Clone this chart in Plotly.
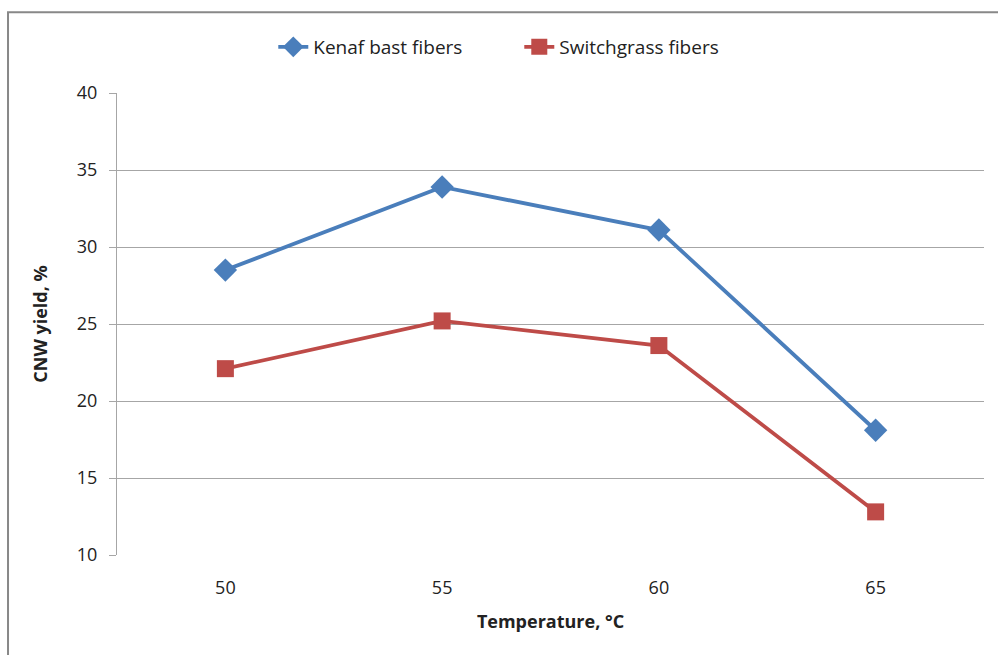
import plotly.graph_objects as go

temperature = [50, 55, 60, 65]
kenaf = [28.5, 33.9, 31.1, 18.1]
switchgrass = [22.1, 25.2, 23.6, 12.8]
y_ticks = [10, 15, 20, 25, 30, 35, 40]

FONT = "Open Sans"

fig = go.Figure()
fig.add_trace(go.Scatter(x=temperature, y=kenaf, mode="lines+markers", name="Kenaf bast fibers",
                         line=dict(color="#4A7EBB", width=3.8),
                         marker=dict(symbol="diamond", size=18, color="#4A7EBB")))
fig.add_trace(go.Scatter(x=temperature, y=switchgrass, mode="lines+markers", name="Switchgrass fibers",
                         line=dict(color="#BE4B48", width=3.8),
                         marker=dict(symbol="square", size=17, color="#BE4B48")))

fig.update_layout(
    width=998, height=655,
    margin=dict(l=117, r=14, t=93, b=100, autoexpand=False),
    paper_bgcolor="white", plot_bgcolor="white",
    font=dict(family=FONT, size=18, color="#222"),
    legend=dict(orientation="h", x=0.464, xanchor="center", y=1.0996, yanchor="middle",
                font=dict(size=19, family=FONT), bgcolor="rgba(0,0,0,0)", traceorder="normal",
                entrywidth=201),
    showlegend=True,
)
fig.update_xaxes(range=[47.5, 67.5], tickvals=temperature, ticktext=[str(t) for t in temperature],
                 showgrid=False, zeroline=False, showline=False, ticks="", ticklabelstandoff=20,
                 tickfont=dict(size=18),
                 title=dict(text="<b>Temperature, °C</b>", font=dict(size=18, family=FONT), standoff=17))
fig.update_yaxes(range=[10, 40], tickvals=y_ticks, showgrid=True, gridcolor="#A6A6A6", gridwidth=1,
                 zeroline=False, showline=True, linecolor="#A6A6A6", linewidth=1,
                 ticks="outside", ticklen=7, tickcolor="#A6A6A6", ticklabelstandoff=8,
                 tickfont=dict(size=18),
                 title=dict(text="<b>CNW yield, %</b>", font=dict(size=18, family=FONT), standoff=24))
fig.add_shape(type="rect", xref="paper", yref="paper", x0=-0.1257, x1=1.02, y0=-0.25, y1=1.175,
              line=dict(color="#888888", width=2), fillcolor="rgba(0,0,0,0)", layer="below")

fig.write_html("out.html", config={"displayModeBar": False},
               post_script="document.body.style.margin='0';")
